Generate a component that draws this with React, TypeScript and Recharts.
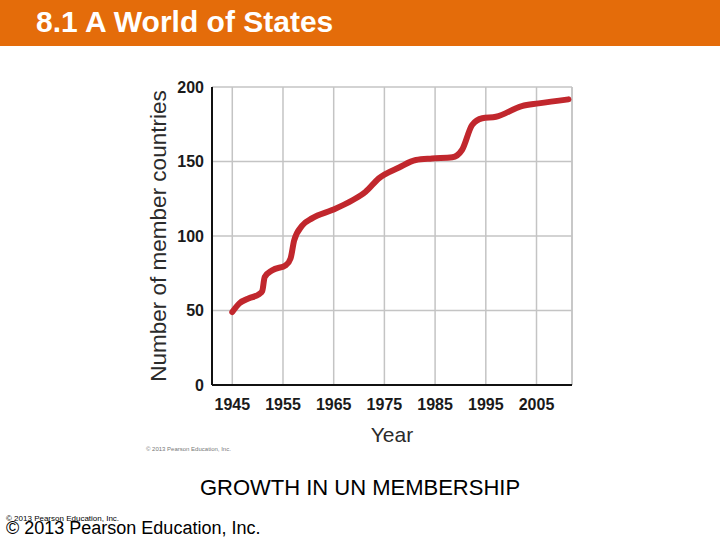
import React from 'react';
import { LineChart, Line, XAxis, YAxis, CartesianGrid, ReferenceLine } from 'recharts';

// year / number of UN member countries
const years = [
  1945, 1946.4, 1948.3, 1950.3, 1950.9, 1951.4, 1952.9, 1955.6, 1956.5, 1957.2,
  1958.8, 1960.8, 1964.7, 1968.7, 1971.3, 1973.9, 1977.9, 1981.2, 1984.4, 1988.4,
  1990.3, 1992.3, 1994.3, 1997, 2002.1, 2005.4, 2011.3,
];
const members = [
  49, 54.8, 58.2, 61, 63, 72.5, 77, 80.5, 85, 97,
  107, 112, 117.4, 124, 129.7, 138.7, 146, 151, 152, 152.8,
  157.7, 174.5, 179, 180, 187.2, 189, 191.7,
];
const yearTicks = [1945, 1955, 1965, 1975, 1985, 1995, 2005];
const countTicks = [0, 50, 100, 150, 200];

const data = years.map((y, i) => ({ year: y, count: members[i] }));

const axisFont = '"Liberation Sans", sans-serif';

const YTitle = ({ viewBox }: any) => {
  const x = viewBox.x - 4;
  const y = viewBox.y + viewBox.height / 2;
  return (
    <text
      x={x}
      y={y}
      transform={`rotate(-90, ${x}, ${y})`}
      textAnchor="middle"
      dominantBaseline="central"
      fill="#2b2b2b"
      fontSize={22.5}
      fontFamily='"Liberation Sans", sans-serif'
    >
      Number of member countries
    </text>
  );
};

const XTitle = ({ viewBox }: any) => (
  <text
    x={viewBox.x + viewBox.width / 2}
    y={viewBox.y + 49}
    textAnchor="middle"
    dominantBaseline="central"
    fill="#2b2b2b"
    fontSize={21}
    fontFamily='"Liberation Sans", sans-serif'
  >
    Year
  </text>
);

export default function App() {
  return (
    <div style={{ position: 'absolute', left: 0, top: 0, width: 720, height: 540, background: '#fff', overflow: 'hidden', fontFamily: '"Liberation Sans", Arial, sans-serif' }}>
      <div style={{ position: 'absolute', left: 0, top: 0, width: 720, height: 46, background: '#e46c0a' }} />
      <div style={{ position: 'absolute', left: 36, top: 4, color: '#fff', fontSize: 30, fontWeight: 'bold', lineHeight: '36px', whiteSpace: 'nowrap' }}>
        8.1 A World of States
      </div>

      <div style={{ position: 'absolute', left: 0, top: 0 }}>
        <LineChart width={720} height={540} data={data} margin={{ top: 87, right: 148, bottom: 125, left: 162 }}>
          <CartesianGrid stroke="#c4c4c4" strokeWidth={1.5} />
          <XAxis
            dataKey="year"
            type="number"
            domain={[1941, 2012]}
            ticks={yearTicks}
            height={30}
            tickLine={false}
            tickMargin={8}
            axisLine={{ stroke: '#111', strokeWidth: 2 }}
            tick={{ fill: '#1a1a1a', fontSize: 16, fontWeight: 'bold', fontFamily: axisFont }}
            label={<XTitle />}
          />
          <YAxis
            type="number"
            domain={[0, 200]}
            ticks={countTicks}
            width={50}
            tickLine={false}
            axisLine={{ stroke: '#111', strokeWidth: 2 }}
            tick={{ fill: '#1a1a1a', fontSize: 16, fontWeight: 'bold', fontFamily: axisFont }}
            label={<YTitle />}
          />
          <ReferenceLine x={2012} stroke="#c4c4c4" strokeWidth={1.5} />
          <Line
            dataKey="count"
            type="monotone"
            stroke="#c1272d"
            strokeWidth={6}
            strokeLinecap="round"
            dot={false}
            isAnimationActive={false}
          />
        </LineChart>
      </div>

      <div style={{ position: 'absolute', left: 146, top: 446, fontSize: 6, color: '#777', whiteSpace: 'nowrap' }}>
        © 2013 Pearson Education, Inc.
      </div>
      <div style={{ position: 'absolute', left: 0, top: 475, width: 720, textAlign: 'center', fontSize: 22, color: '#000' }}>
        GROWTH IN UN MEMBERSHIP
      </div>
      <div style={{ position: 'absolute', left: 6, top: 514, fontSize: 8, color: '#000', whiteSpace: 'nowrap' }}>
        © 2013 Pearson Education, Inc.
      </div>
      <div style={{ position: 'absolute', left: 6, top: 518, fontSize: 18, color: '#000', whiteSpace: 'nowrap' }}>
        © 2013 Pearson Education, Inc.
      </div>
    </div>
  );
}
